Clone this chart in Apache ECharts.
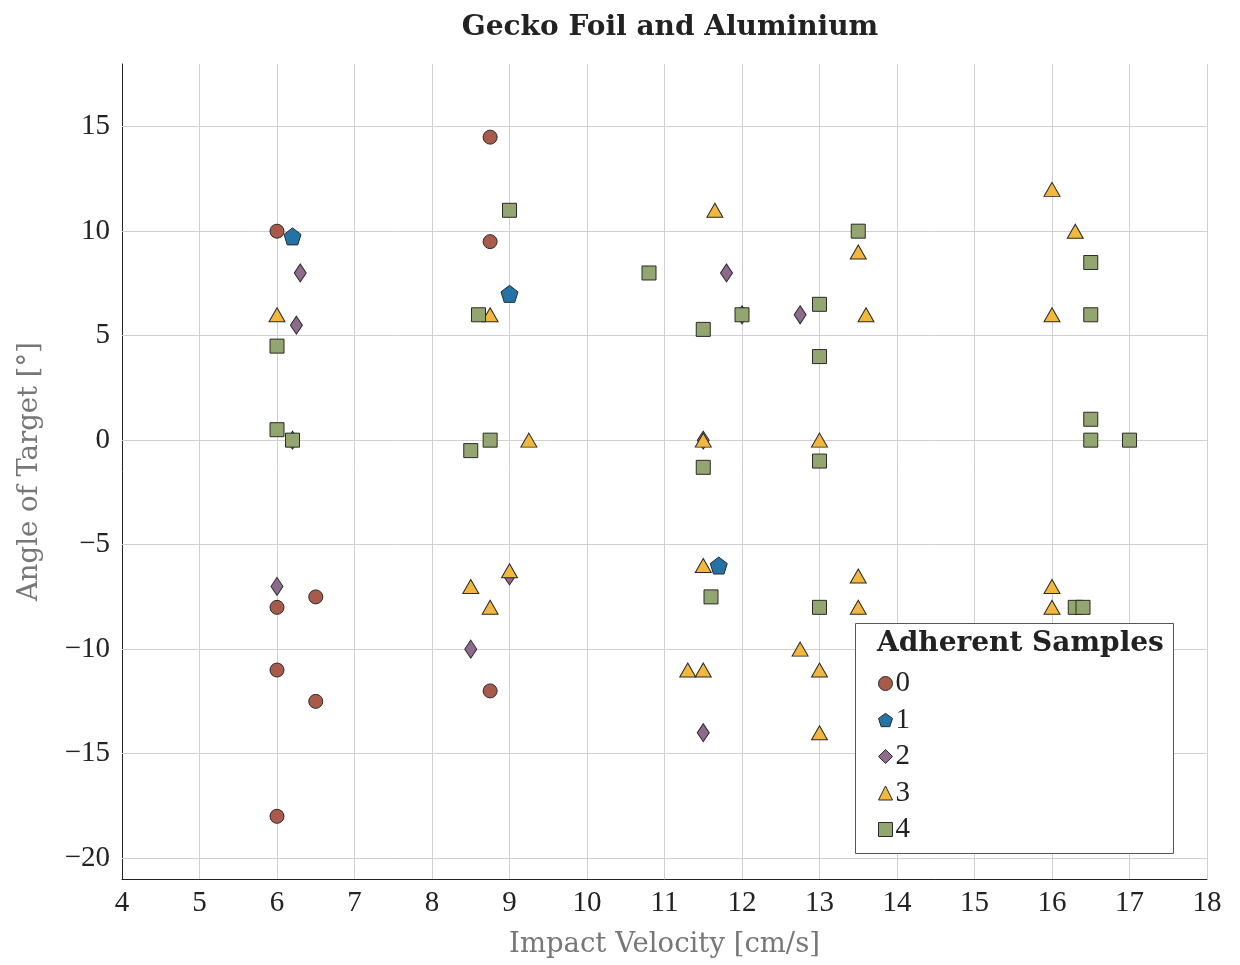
<!DOCTYPE html>
<html><head><meta charset="utf-8">
<script src="https://cdn.jsdelivr.net/npm/echarts@6/dist/echarts.min.js"></script>
<style>html,body{margin:0;padding:0;background:#fff}#c{width:1240px;height:965px}</style>
</head><body><div id="c"></div>
<script>
const seriesNames = ['0','1','2','3','4'];
const s0 = [[6,10],[8.75,14.5],[8.75,9.5],[6,-8],[6.5,-7.5],[6,-11],[6.5,-12.5],[8.75,-12],[6,-18]];
const s1 = [[6.2,9.75],[9,7],[11.7,-6]];
const s2 = [[6.3,8],[6.25,5.5],[6,-7],[6.2,0],[9,-6.5],[8.5,-10],[11.5,0],[11.8,8],[12,6],[12.75,6],[11.5,-14]];
const s3 = [[6,6],[8.75,6],[9.25,0],[8.5,-7],[8.75,-8],[9,-6.25],[11.65,11],[11.5,0],[11.5,-6],[11.3,-11],[11.5,-11],
  [12.75,-10],[13,0],[13,-11],[13,-14],[13.5,9],[13.6,6],[13.5,-6.5],[13.5,-8],[16,12],[16.3,10],[16,6],[16,-7],[16,-8]];
const s4 = [[6,4.5],[6,0.5],[6.2,0],[8.6,6],[9,11],[8.75,0],[8.5,-0.5],[10.8,8],[11.5,5.3],[12,6],[11.5,-1.3],[11.6,-7.5],
  [13.5,10],[13,6.5],[13,4],[13,-1],[13,-8],[16.5,8.5],[16.5,6],[16.5,1],[16.5,0],[17,0],[16.3,-8],[16.4,-8]];
const xTicks = [4,5,6,7,8,9,10,11,12,13,14,15,16,17,18];
const yTicks = [-20,-15,-10,-5,0,5,10,15];

const FONT = 'Liberation Serif';
const WIDE = 'DejaVu Serif';
const pentagon = 'path://M0,-1 L0.951,-0.309 L0.588,0.809 L-0.588,0.809 L-0.951,-0.309 Z';
const styles = [
  {symbol:'circle', size:14, color:'#a95a4b'},
  {symbol:pentagon, size:17, color:'#2473a6'},
  {symbol:'diamond', size:[12,18], color:'#8e6a8c'},
  {symbol:'triangle', size:[16,14], color:'#f2b73c'},
  {symbol:'rect', size:14, color:'#93a670'}
];
const data = [s0,s1,s2,s3,s4];
const fmt = v => String(v).replace('-', '\u2212');

const chart = echarts.init(document.getElementById('c'), null, {renderer:'canvas'});
chart.setOption({
  backgroundColor:'#fff',
  animation:false,
  title:{text:'Gecko Foil and Aluminium', left:665, top:9, textAlign:'center',
    textStyle:{fontFamily:WIDE, fontWeight:'bold', fontSize:28, color:'#222'}},
  grid:{left:122, right:33, top:64, bottom:86, containLabel:false},
  xAxis:{type:'value', min:4, max:18, interval:1,
    name:'Impact Velocity [cm/s]', nameLocation:'middle', nameGap:52,
    nameTextStyle:{fontFamily:WIDE, fontSize:27.5, color:'#777'},
    axisLine:{show:true, onZero:false, lineStyle:{color:'#222', width:1}},
    axisTick:{show:false},
    axisLabel:{fontFamily:FONT, fontSize:29, color:'#222', margin:10, formatter:fmt},
    splitLine:{show:true, lineStyle:{color:'#d0d0d0', width:1}}},
  yAxis:{type:'value', min:-21, max:18,
    name:'Angle of Target [°]', nameLocation:'middle', nameGap:78,
    nameTextStyle:{fontFamily:WIDE, fontSize:27.5, color:'#777'},
    axisLine:{show:true, onZero:false, lineStyle:{color:'#222', width:1}},
    axisTick:{show:false},
    axisLabel:{fontFamily:FONT, fontSize:29, color:'#222', margin:12, formatter:fmt,
      customValues: yTicks},
    splitLine:{show:false}},
  legend:{orient:'vertical', left:873, top:664, z:20, itemWidth:14, itemHeight:14, itemGap:7.5,
    data:seriesNames, itemStyle:{borderWidth:1, borderColor:'#2a2a2a'},
    textStyle:{fontFamily:FONT, fontSize:29, color:'#222', lineHeight:26, padding:[0,0,0,-2]}},
  graphic:[
    {type:'rect', shape:{x:855.5, y:623.5, width:318, height:230}, z:10,
     style:{fill:'#fff', stroke:'#555', lineWidth:1}},
    {type:'text', x:877, y:630, z:20,
     style:{text:'Adherent Samples', fontFamily:WIDE, fontWeight:'bold', fontSize:28, fill:'#222'}}
  ],
  series: data.map((d,i)=>({
    name:seriesNames[i], type:'scatter', data:d, z:3,
    symbol:styles[i].symbol, symbolSize:styles[i].size,
    itemStyle:{color:styles[i].color, borderColor:'#2a2a2a', borderWidth:1, opacity:1},
    emphasis:{disabled:true}
  })).concat([{
    type:'line', data:[], z:1, markLine:{silent:true, symbol:'none', label:{show:false}, z:1,
      lineStyle:{color:'#d0d0d0', width:1, type:'solid'},
      data: yTicks.map(v=>({yAxis:v}))}
  }])
});
</script></body></html>
